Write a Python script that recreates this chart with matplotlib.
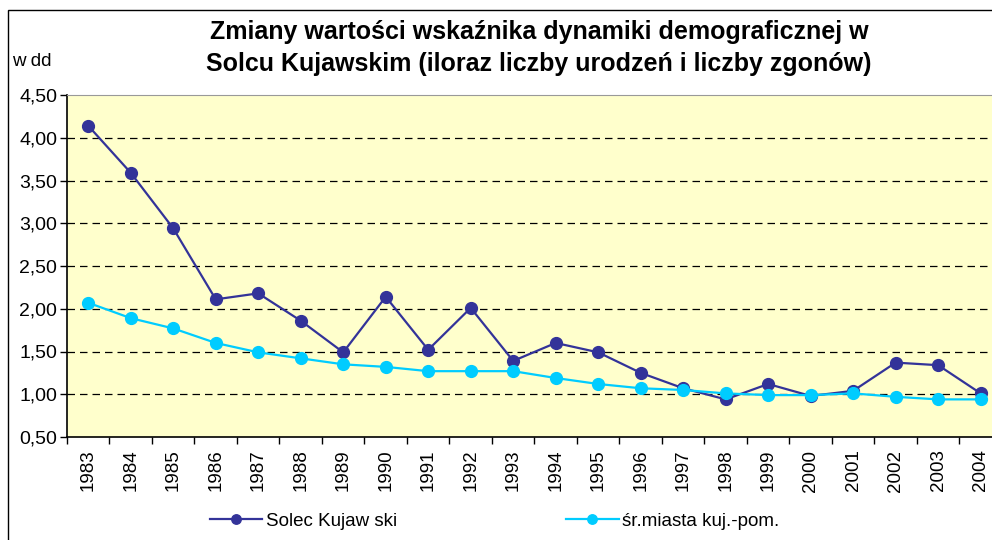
import matplotlib
matplotlib.use("Agg")
import matplotlib.pyplot as plt
from matplotlib.patches import Rectangle
from matplotlib.ticker import FixedLocator, FuncFormatter

plt.rcParams["font.family"] = ["Liberation Sans", "DejaVu Sans"]

# ---- data
years = [str(y) for y in range(1983, 2005)]
solec = [4.14, 3.59, 2.94, 2.11, 2.18, 1.86, 1.49, 2.14, 1.52, 2.01, 1.39,
         1.60, 1.49, 1.25, 1.07, 0.94, 1.12, 0.98, 1.04, 1.37, 1.34, 1.01]
srednia = [2.07, 1.89, 1.77, 1.60, 1.49, 1.42, 1.35, 1.32, 1.27, 1.27, 1.27,
           1.19, 1.12, 1.07, 1.05, 1.01, 0.99, 0.99, 1.01, 0.97, 0.94, 0.94]
y_ticks = [0.5, 1.0, 1.5, 2.0, 2.5, 3.0, 3.5, 4.0, 4.5]

title = ("Zmiany wartości wskaźnika dynamiki demograficznej w\n"
         "Solcu Kujawskim (iloraz liczby urodzeń i liczby zgonów)")

fig = plt.figure(figsize=(9.92, 5.40), dpi=100)
W, H = 992, 540
ax = fig.add_axes([67 / W, 1 - 437 / H, (W - 67) / W + 0.01, (437 - 95) / H])

# outer chart border
fig.patches.append(Rectangle((8 / W, -0.05), 1.1, 1 - 10 / H + 0.05,
                             transform=fig.transFigure, fill=False,
                             edgecolor="black", linewidth=1.0))

x = list(range(len(years)))
ax.set_facecolor("#FFFFCC")
ax.plot(x, solec, color="#333399", marker="o", markersize=8.5,
        linewidth=1.6, label="Solec Kujaw ski", zorder=3)
ax.plot(x, srednia, color="#00CCFF", marker="o", markersize=8.5,
        linewidth=1.6, label="śr.miasta kuj.-pom.", zorder=3)

ax.set_xlim(-0.5, len(years) - 0.5)
ax.set_ylim(0.5, 4.5)
ax.set_yticks(y_ticks)
ax.yaxis.set_major_formatter(FuncFormatter(lambda v, p: f"{v:.2f}".replace(".", ",")))
ax.tick_params(axis="y", labelsize=14, length=5, width=1, pad=2)

ax.set_xticks(x)
ax.set_xticklabels(years, rotation=90, fontsize=13.5)
ax.tick_params(axis="x", length=0, pad=9)
ax.xaxis.set_minor_locator(FixedLocator([i - 0.5 for i in range(len(years) + 1)]))
ax.tick_params(axis="x", which="minor", length=5, width=1)

for v in y_ticks[1:-1]:
    ax.axhline(v, color="black", linestyle=(0, (6, 4)), linewidth=0.9, zorder=1)

ax.spines["right"].set_visible(False)
ax.spines["top"].set_color("#999999")
ax.spines["left"].set_linewidth(1.2)
ax.spines["bottom"].set_linewidth(1.2)

fig.text(539 / W, 1 - 48 / H, title, ha="center", va="center",
         fontsize=18, fontweight="bold", linespacing=1.4)
fig.text(12 / W, 1 - 62 / H, "w dd", ha="left", va="center", fontsize=13.5)

fig.legend(loc="center left", bbox_to_anchor=(193 / W, 1 - 521 / H), ncol=2,
           frameon=False, fontsize=13.5, handlelength=2.8, columnspacing=9.0,
           handletextpad=0.2, markerscale=0.8)

fig.savefig("out.png", dpi=100)
